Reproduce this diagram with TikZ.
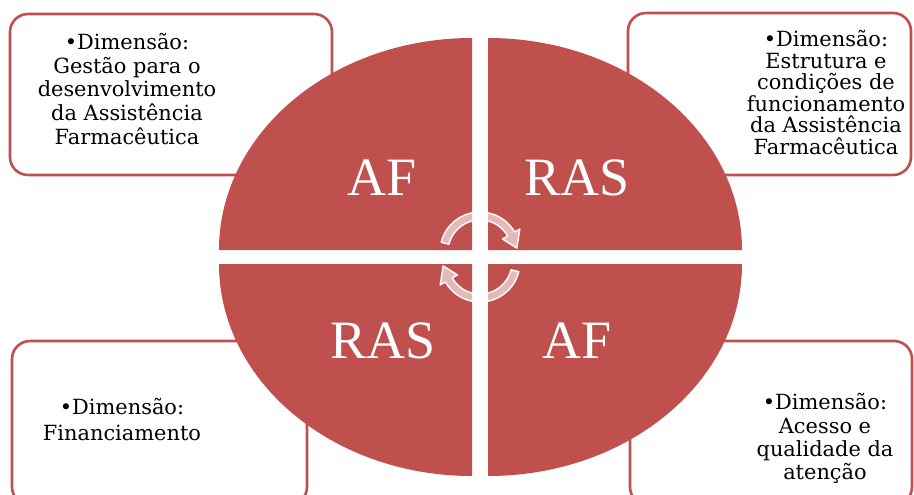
\documentclass[tikz,border=0pt]{standalone}
\usepackage{fontspec}
\setmainfont{DejaVu Serif}
\newfontfamily\bigfont{Liberation Serif}
\definecolor{accred}{HTML}{C0504D}
\begin{document}
\begin{tikzpicture}[x=1pt,y=-1pt,
  dimbox/.style={draw=accred,line width=2.6pt,fill=white,rounded corners=18pt},
  quad/.style={fill=accred},
  biglabel/.style={text=white,font=\bigfont\fontsize{54}{60}\selectfont,anchor=base,inner sep=0pt},
  dimtext/.style={anchor=north,inner sep=0pt,align=center,text=black},
  cyc/.style={fill=white,fill opacity=0.6,draw=white,draw opacity=1,line width=1.4pt,line join=round}]
\clip (0,0) rectangle (914,495);
\fill[white] (0,0) rectangle (914,495);
% text boxes (behind the circle)
\draw[dimbox] (10,14) rectangle (332,175);
\draw[dimbox] (628,13) rectangle (911,175);
\draw[dimbox] (12,341) rectangle (307,505);
\draw[dimbox] (630,341) rectangle (912,505);
% quadrants
\fill[quad] (219,250) arc[start angle=180,end angle=270,x radius=253,y radius=212] -- (472,250) -- cycle;
\fill[quad] (488,38) arc[start angle=270,end angle=360,x radius=254,y radius=212] -- (488,250) -- cycle;
\fill[quad] (219,264) arc[start angle=180,end angle=90,x radius=253,y radius=212] -- (472,264) -- cycle;
\fill[quad] (742,264) arc[start angle=0,end angle=90,x radius=254,y radius=212] -- (488,264) -- cycle;
% central circular arrows
\coordinate (c1) at (480,252);
\coordinate (c2) at (480,262);
\path[cyc] ([shift={(194:40)}]c1) arc[start angle=194,end angle=330,radius=40]
  -- ([shift={(330:46)}]c1) -- ([shift={(354:37)}]c1) -- ([shift={(330:26)}]c1)
  -- ([shift={(330:32)}]c1) arc[start angle=330,end angle=194,radius=32] -- cycle;
\path[cyc] ([shift={(14:40)}]c2) arc[start angle=14,end angle=150,radius=40]
  -- ([shift={(150:46)}]c2) -- ([shift={(174:37)}]c2) -- ([shift={(150:26)}]c2)
  -- ([shift={(150:32)}]c2) arc[start angle=150,end angle=14,radius=32] -- cycle;
% big labels
\node[biglabel] (af1) at (382.5,195) {AF};
\node[biglabel] (ras1) at (577.5,195) {RAS};
\node[biglabel] (ras2) at (383.3,358.3) {RAS};
\node[biglabel] (af2) at (577.5,358.3) {AF};
% dimension texts
\node[dimtext,font=\fontsize{20.9}{23.75}\selectfont] (tl) at (127,33)
  {\rule{0pt}{15pt}•Dimensão:\\Gestão para o\\desenvolvimento\\da Assistência\\Farmacêutica};
\node[dimtext,font=\fontsize{20.9}{21.6}\selectfont] (tr) at (826,30)
  {\rule{0pt}{15pt}•Dimensão:\\Estrutura e\\condições de\\funcionamento\\da Assistência\\Farmacêutica};
\node[dimtext,font=\fontsize{20.9}{25.5}\selectfont] (bl) at (122,398.5)
  {\rule{0pt}{15pt}•Dimensão:\\Financiamento};
\node[dimtext,font=\fontsize{20.9}{23.3}\selectfont] (br) at (825,393.5)
  {\rule{0pt}{15pt}•Dimensão:\\Acesso e\\qualidade da\\atenção};
\end{tikzpicture}
\end{document}
